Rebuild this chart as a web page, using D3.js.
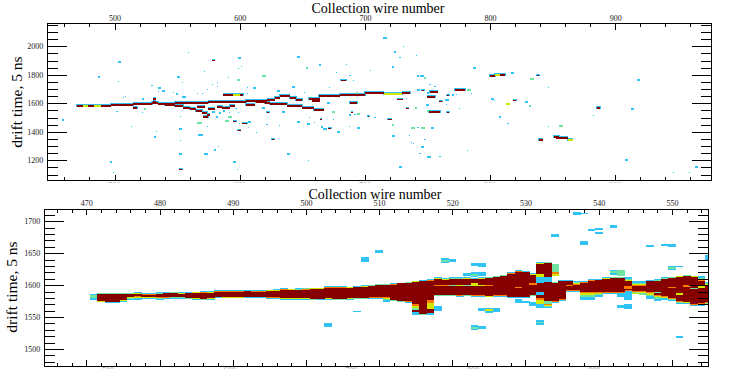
<!DOCTYPE html>
<meta charset="utf-8">
<head>
<style>
html, body { margin: 0; background: #fff; }
svg { display: block; }
svg rect { shape-rendering: crispEdges; }
text { font-family: "Liberation Serif", serif; fill: #000; }
.tick text { font-size: 8px; fill: #222; }
.title { font-size: 14px; }
.ytitle { font-size: 15.5px; }
.domain { display: none; }
.tick line { stroke: #000; stroke-width: 1; shape-rendering: crispEdges; }
</style>
</head>
<body>
<svg width="738" height="379"></svg>
<script src="https://cdn.jsdelivr.net/npm/d3@7"></script>
<script>

// cell colours, low charge to high charge
var levels = ["#2fc4f5", "#6fe3a0", "#d2e800", "#ff7a00", "#870000"];

// upper panel, full event
var topWireTicks = [500, 600, 700, 800, 900];
var topTimeTicks = [1200, 1400, 1600, 1800, 2000];

// track pieces: wire from, wire to, time, level
var topTracks = [
  [470,475,1578,4],[475,479,1581,2],[479,484,1582,4],[484,489,1583,2],[489,497,1583,4],
  [497,515,1588,4],[515,530,1592,4],[515,518,1567,4],[530,535,1600,4],[531,533,1628,4],[531,533,1612,4],
  [535,548,1598,4],[548,560,1605,4],[560,575,1603,4],[575,590,1607,4],[590,605,1612,4],[605,622,1613,4],
  [540,548,1590,4],[548,555,1578,4],[555,560,1570,4],[560,565,1560,4],[565,570,1545,4],[570,574,1530,4],[574,576,1518,4],[571,575,1505,4],
  [613,620,1612,4],[620,624,1600,4],[624,638,1595,4],[638,650,1583,4],[650,659,1570,4],[659,667,1555,4],
  [622,628,1625,4],[628,632,1635,4],[632,640,1650,4],[640,645,1640,4],[645,650,1625,4],
  [587,595,1655,4],[595,600,1655,2],[600,603,1658,4],
  [655,664,1630,4],[658,664,1616,4],[663,680,1650,4],[680,700,1655,4],
  [700,715,1672,4],[715,730,1668,2],[730,736,1670,4],
  [582,586,1572,4],[586,592,1565,4],[592,596,1578,4],[566,572,1575,4],[575,580,1562,4],[605,612,1590,4],
  [688,694,1605,4],[800,804,1790,4],[804,808,1797,2],[808,812,1800,4],
  [851,855,1366,4],[853,862,1357,4],[862,866,1345,2],[839,842,1343,4],
  [750,756,1642,4],[752,758,1680,4],[772,780,1695,4],[751,760,1537,4],[885,888,1567,4]
];

// single hits: wire, time, width in wires, level
var topHits = [
  [459,1483,2,0],[504,1892,3,0],[487.5,1785,2,0],[503,1752,1,0],[499,1113,1,0],[497,1188,2,0],[513.5,1431,1,0],[502,1539,1,0],
  [509,1642,1,0],[507,1635,1,0],[530,1722,1,0],[536,1710,2,0],[539,1689,2,0],[535,1677,1,0],[522.6,1633,2,0],[524.5,1563,2,1],
  [522.6,1534,1,0],[532.5,1366,2,0],[533.5,1396,1,0],[551,1785,2,0],[559,1951,1,0],[572,1818,1,0],[579,1902,3,4],[600,1916,2,0],
  [601.5,1857,1,0],[599,1841,1,0],[591,1775,1,0],[599,1764,3,1],[582,1740,1,0],[578,1729,1,0],[582,1712,1,0],[574,1694,1,0],
  [570,1665,1,0],[566,1663,1,0],[554,1740,1,0],[547,1670,1,0],[550,1665,2,0],[555.6,1642,3,0],[606,1705,1,0],[606,1665,1,0],
  [612,1708,2,0],[619.5,1792,3,1],[631,1689,3,0],[643,1712,3,0],[647,1925,2,0],[653.6,1846,2,1],[664,1869,2,0],[677.6,1810,1,0],
  [685.5,1871,1,0],[683,1764,5,4],[688,1792,1,0],[691,1759,1,0],[652,1670,1,0],[672,1705,1,0],[693.6,1670,2,1],[552.5,1502,1,0],
  [568,1459,4,1],[552.5,1422,2,0],[574,1431,1,0],[569,1375,4,0],[552.5,1333,1,0],[552.5,1244,2,0],[553,1139,3,4],[573,1242,3,0],
  [580.4,1272,2,0],[583,1291,1,0],[596,1190,2,0],[598,1132,1,0],[584.4,1530,2,0],[582,1506,2,0],[579,1541,2,0],[587.6,1546,2,0],
  [589.7,1478,3,1],[592,1502,3,1],[596,1476,3,4],[592,1530,1,0],[597,1558,1,0],[599,1530,1,0],[600,1455,1,0],[604,1464,5,4],
  [608,1469,2,0],[607,1424,1,1],[599.6,1413,3,4],[613.7,1394,1,0],[621.7,1448,1,0],[626.5,1350,3,4],[635,1539,3,0],[622.5,1541,3,4],
  [619,1565,3,0],[632,1441,1,0],[639,1242,3,0],[655,1193,1,0],[647,1469,2,0],[656,1495,1,0],[655,1453,2,0],[660,1460,1,0],
  [665,1492,2,4],[665.6,1436,2,0],[668,1417,3,0],[672,1427,3,4],[679,1399,3,0],[675,1541,2,1],[671,1600,2,0],[675,1483,1,0],
  [687.7,1436,1,0],[695,1427,2,0],[689.6,1541,2,4],[688,1518,2,0],[695,1525,2,1],[692,1518,1,0],[703,1511,2,4],
  [716,2059,3,0],[724,1960,2,0],[731,1993,1,0],[728,1916,1,0],[741,1932,1,0],[722.5,1853,2,0],[704.6,1829,1,0],[742.4,1792,2,0],
  [745.6,1792,3,0],[748,1780,2,1],[752,1726,1,0],[756,1717,1,0],[743,1694,2,0],[746.4,1694,3,4],[750.4,1670,2,0],[766.4,1661,3,4],
  [770.4,1658,2,0],[773,1656,1,0],[783,1691,3,1],[785,1668,1,0],[787.7,1848,2,0],[756,1642,1,0],[760.5,1614,3,4],[765.6,1626,3,0],
  [750,1591,2,0],[765,1586,1,0],[775.7,1558,1,0],[734,1567,3,4],[741,1567,2,1],[728,1630,5,4],[733,1628,1,0],[750.4,1544,2,1],
  [766.4,1537,3,4],[720,1490,4,4],[708,1495,1,0],[722.5,1450,2,1],[738.4,1427,3,1],[746.4,1427,3,1],[742.4,1425,1,0],[754,1425,2,0],
  [722.7,1371,2,0],[735.5,1371,1,0],[737,1324,1,0],[739,1312,1,0],[748,1343,1,0],[746,1296,2,0],[744,1244,1,0],[751,1226,3,0],
  [760,1221,1,0],[782,1268,1,0],[728.6,1151,2,0],[818,1815,2,0],[802,1630,2,0],[803.7,1614,1,0],[814.3,1595,3,2],[819.6,1623,3,4],
  [829,1607,3,0],[832,1581,2,1],[833.5,1773,3,1],[838.3,1796,3,4],[846.5,1705,1,0],[808,1504,2,0],[814.3,1453,1,0],[846.8,1436,1,0],
  [856.4,1441,3,1],[882.5,1513,1,0],[913.6,1563,2,0],[918.7,1761,2,0],[909,1200,2,0],[946.4,1109,1,0],[959,1109,1,0],[965,1151,2,0]
];

// lower panel, zoom on the start of the track
var lowWireTicks = [470, 480, 490, 500, 510, 520, 530, 540, 550];
var lowTimeTicks = [1500, 1550, 1600, 1650, 1700];
var bandWires = d3.range(472, 556);

var bandOuterTop = [1588,1588,1588,1588,1588,1589,1588,1588,1589,1589,1590,1589,1589,1590,1591,1591,
  1592,1592,1592,1592,1592,1592,1592,1593,1594,1595,1594,1595,1596,1596,1596,1598,1598,1598,1597,1598,1600,1601,
  1602,1602,1603,1604,1605,1607,1608,1610,1612,1611,1612,1612,1612,1611,1612,1613,1615,1616,1620,1624,1622,1619,
  1637,1637,1605,1608,1608,1607,1606,1609,1609,1612,1613,1613,1612,1606,1606,1608,1609,1612,1613,1615,1616,1615,1615,1605];
var bandCoreTop = [1586,1586,1586,1586,1586,1586,1585,1585,1585.5,1587,1587,1586,1587,1588,1588,1587,
  1590,1590,1590,1590,1590.5,1590,1590,1591,1591,1593,1593,1592,1593,1594,1594,1596,1596,1596,1596,1597,1597,1598,
  1600,1600,1601,1603,1603,1605,1606,1607,1610,1608,1609,1609,1610,1609,1610,1611,1612,1614,1618,1621,1620,1616,
  1633,1634,1603,1606,1606,1600,1604,1607,1608,1610,1611,1611,1606,1598,1598,1606,1606,1609,1611,1613,1614,1613,1606,1600];
var bandCoreBot = [1575,1574,1574,1577,1582,1583,1582,1582,1581,1581,1582,1582,1580,1580,1579,1580,
  1582,1581,1581,1581,1582,1582,1582,1581,1581,1580,1580,1580,1580,1579,1579,1580,1579,1579,1580,1580,1580,1581,
  1581,1581,1577,1575.5,1575,1570,1555,1577,1585,1585,1585,1584,1585,1584,1584,1583,1584,1584,1582,1582,1582,1585,
  1580,1570,1575,1578,1592,1592,1590,1590,1590,1589,1589,1589,1592,1591,1591,1590,1585,1583,1580,1575,1574,1570,1572,1573];
var bandOuterBot = [1573,1572.5,1572.5,1574,1577,1577,1578,1578,1577,1579,1579,1579,1578,1577,1576,1577,
  1580,1580,1580,1580,1580,1580,1580,1578,1578,1577,1577,1577,1577.5,1576,1577,1577,1576,1576,1577,1578,1578,1578,
  1578,1574,1575,1573,1572,1554,1553,1553,1583,1583,1583,1582,1583,1582,1582,1581,1582,1582,1580,1580,1580,1583,
  1565,1564,1572,1575,1589,1590,1577,1577,1581,1586,1586,1586,1589,1586,1584,1578,1575,1577,1575,1570,1570,1567,1567,1570];

// blobs off the band: wire, time top, time bottom, level
var lowBlobs = [
  [471,1586,1577,0],[471,1584,1580,1],[503,1540,1535,0],[507,1559,1558,0],[508,1644,1636,0],[510,1655,1651,0],
  [518,1568,1560,0],[519,1643,1634,0],[519,1640,1637,1],[520,1641,1636,0],[522,1619,1615,0],[523,1635,1630,0],
  [523,1621,1613,0],[523,1618,1615,1],[523,1538,1530,0],[523,1535,1532,1],[524,1635,1629,0],[524,1620,1615,0],
  [524,1564,1560,0],[524,1536,1532,0],[525,1565,1556,0],[525,1563,1559,2],[526,1565,1558,0],[529,1579,1572,0],
  [530,1575,1572,0],[531,1574,1568,0],[531,1543,1542,0],[532,1546,1537,0],[532,1543,1540,1],[534,1680,1676,0],
  [534,1633,1615,1],[534,1620,1617,3],[534,1617,1615,2],[537,1714,1710,0],[538,1713,1712,0],[538,1669,1663,0],
  [539,1690,1689,0],[539,1688,1685,0],[540,1690,1687,0],[540,1683,1680,0],[542,1694,1690,0],[547,1663,1659,0],
  [549,1664,1662,0],[550,1665,1660,0],[550,1630,1623,0],[550,1628,1625,1],[551,1630,1629,0],[551,1521,1518,0],
  [543,1569,1565,0],[544,1571,1563,0],[543,1586,1581,0],[544,1590,1577,0],[542,1624,1616,0],[542,1622,1619,1],
  [543,1624,1615,1],[555,1647,1640,0]
];

// marks over the band: same columns as the blobs
var lowSeams = [
  [515,1561,1558,4],[517,1563,1556,4],[517,1570,1563,2],[532,1618,1613,2],[532,1613,1603,0],[533,1613,1605,0],
  [518,1600,1598,3],[519,1600,1598,3],[520,1600,1598,1],[521,1600,1598,2],[522,1600,1598,1],[523,1603,1599,2],
  [524,1601,1598,2],[525,1600,1599,3],[529,1597,1595,3],[531,1603,1600,3],[532,1590,1585,0],[532,1575,1570,2],
  [533,1575,1570,1],[536,1600,1598,3],[544,1598,1594,3],[545,1588,1586,2],[546,1588,1585,1],[548,1590,1587,1],
  [551,1587,1584,2],[552,1600,1597,3],[553,1596,1594,1],[554,1600,1596,2],[550,1597,1595,3]
];

var svg = d3.select("svg");

var topX = d3.scaleLinear().domain([446.3, 976.7]).range([47.3, 711.3]);
var topY = d3.scaleLinear().domain([1058, 2160]).range([180.5, 23.5]);
var lowX = d3.scaleLinear().domain([464.26, 555.03]).range([44.3, 708.7]);
var lowY = d3.scaleLinear().domain([1473, 1718.75]).range([366.3, 209.3]);

function clipTo(id, x, y) {
  svg.append("clipPath").attr("id", id).append("rect")
    .attr("x", x.range()[0]).attr("y", y.range()[1])
    .attr("width", x.range()[1] - x.range()[0])
    .attr("height", y.range()[0] - y.range()[1]);
  return svg.append("g").attr("clip-path", "url(#" + id + ")");
}

// ---- upper panel
var topG = clipTo("clipTop", topX, topY);

topG.selectAll(".halo").data(topTracks).enter().append("rect")
  .attr("class", "halo")
  .attr("x", function(d) { return topX(d[0]) - 0.6; })
  .attr("width", function(d) { return topX(d[1]) - topX(d[0]) + 1.2; })
  .attr("y", function(d) { return Math.round(topY(d[2])) - 2; })
  .attr("height", 3)
  .attr("fill", levels[0]);

topG.selectAll(".hit").data(topHits).enter().append("rect")
  .attr("class", "hit")
  .attr("x", function(d) { return topX(d[0] - d[2] / 2); })
  .attr("width", function(d) { return Math.max(1, topX(d[2]) - topX(0)); })
  .attr("y", function(d) { return Math.round(topY(d[1])) - 1; })
  .attr("height", function(d) { return d[2] > 1 ? 2 : 1; })
  .attr("fill", function(d) { return d[3] == 4 ? levels[0] : levels[d[3]]; });

// red middle of the strong hits
topG.selectAll(".hitcore").data(topHits.filter(function(d) { return d[3] == 4; })).enter().append("rect")
  .attr("class", "hitcore")
  .attr("x", function(d) { return topX(d[0] - d[2] / 2 + 0.4); })
  .attr("width", function(d) { return topX(d[2] - 0.8) - topX(0); })
  .attr("y", function(d) { return Math.round(topY(d[1])); })
  .attr("height", 1)
  .attr("fill", levels[4]);

topG.selectAll(".core").data(topTracks).enter().append("rect")
  .attr("class", "core")
  .attr("x", function(d) { return topX(d[0]); })
  .attr("width", function(d) { return topX(d[1]) - topX(d[0]); })
  .attr("y", function(d) { return Math.round(topY(d[2])) - 1; })
  .attr("height", 2)
  .attr("fill", function(d) { return levels[d[3]]; });

// ---- lower panel
var lowG = clipTo("clipLow", lowX, lowY);

var bands = bandWires.map(function(w, i) {
  return { wire: w, outerTop: bandOuterTop[i], coreTop: bandCoreTop[i], coreBot: bandCoreBot[i], outerBot: bandOuterBot[i] };
});

// fringe of each column steps through the colours towards the core
var fringeSteps = [[0, 0], [0.4, 1], [0.6, 2], [0.8, 3]];
var fringes = [];
bands.forEach(function(b) {
  fringeSteps.forEach(function(s, j) {
    var next = j < 3 ? fringeSteps[j + 1][0] : 1;
    fringes.push({ wire: b.wire, t0: b.outerTop + (b.coreTop - b.outerTop) * s[0], t1: b.outerTop + (b.coreTop - b.outerTop) * next, lvl: s[1] });
    fringes.push({ wire: b.wire, t0: b.coreBot + (b.outerBot - b.coreBot) * (1 - next), t1: b.coreBot + (b.outerBot - b.coreBot) * (1 - s[0]), lvl: s[1] });
  });
});

function cellColumn(sel, wire, t0, t1) {
  sel.attr("x", function(d) { return lowX(wire(d) - 0.5); })
    .attr("width", lowX(1) - lowX(0) + 0.4)
    .attr("y", function(d) { return lowY(t0(d)); })
    .attr("height", function(d) { return Math.abs(lowY(t1(d)) - lowY(t0(d))); });
}

lowG.selectAll(".blob").data(lowBlobs).enter().append("rect")
  .attr("class", "blob")
  .call(cellColumn, function(d) { return d[0]; }, function(d) { return d[1]; }, function(d) { return d[2]; })
  .attr("fill", function(d) { return levels[d[3]]; });

lowG.selectAll(".fringe").data(fringes).enter().append("rect")
  .attr("class", "fringe")
  .call(cellColumn, function(d) { return d.wire; }, function(d) { return d.t0; }, function(d) { return d.t1; })
  .attr("fill", function(d) { return levels[d.lvl]; });

lowG.selectAll(".band").data(bands).enter().append("rect")
  .attr("class", "band")
  .call(cellColumn, function(d) { return d.wire; }, function(d) { return d.coreTop; }, function(d) { return d.coreBot; })
  .attr("fill", levels[4]);

lowG.selectAll(".seam").data(lowSeams).enter().append("rect")
  .attr("class", "seam")
  .call(cellColumn, function(d) { return d[0]; }, function(d) { return d[1]; }, function(d) { return d[2]; })
  .attr("fill", function(d) { return levels[d[3]]; });

// ---- frames and ticks
function drawFrame(x, y, xMinor, xMajor, yMinor, yMajor, fmtTop) {
  var x0 = x.range()[0], x1 = x.range()[1], y0 = y.range()[0], y1 = y.range()[1];
  var none = function() { return ""; };

  svg.append("g").attr("transform", "translate(0," + y1 + ")")
    .call(d3.axisTop(x).tickValues(xMinor).tickSize(-3.5).tickFormat(none));
  svg.append("g").attr("transform", "translate(0," + y0 + ")")
    .call(d3.axisBottom(x).tickValues(xMinor).tickSize(-3.5).tickFormat(none));
  svg.append("g").attr("transform", "translate(0," + y1 + ")")
    .call(d3.axisTop(x).tickValues(xMajor).tickSize(-6).tickPadding(3).tickFormat(fmtTop));
  svg.append("g").attr("transform", "translate(0," + y0 + ")")
    .call(d3.axisBottom(x).tickValues(xMajor).tickSize(-6).tickFormat(none));

  svg.append("g").attr("transform", "translate(" + x0 + ",0)")
    .call(d3.axisLeft(y).tickValues(yMinor).tickSize(-10.5).tickFormat(none));
  svg.append("g").attr("transform", "translate(" + x1 + ",0)")
    .call(d3.axisRight(y).tickValues(yMinor).tickSize(-10.5).tickFormat(none));
  svg.append("g").attr("transform", "translate(" + x0 + ",0)")
    .call(d3.axisLeft(y).tickValues(yMajor).tickSize(-19.5).tickPadding(4).tickFormat(fmtTop));
  svg.append("g").attr("transform", "translate(" + x1 + ",0)")
    .call(d3.axisRight(y).tickValues(yMajor).tickSize(-19.5).tickFormat(none));

  svg.append("rect").attr("x", x0).attr("y", y1)
    .attr("width", x1 - x0).attr("height", y0 - y1)
    .attr("fill", "none").attr("stroke", "#000").attr("stroke-width", 1.2);
}

var fmt = d3.format("d");
drawFrame(topX, topY, d3.range(460, 976, 20), topWireTicks, d3.range(1100, 2160, 50), topTimeTicks, fmt);
drawFrame(lowX, lowY, d3.range(466, 555, 2), lowWireTicks, d3.range(1480, 1718, 10), lowTimeTicks, fmt);

// tops of the lower tick labels stick out under each frame
var cutScale = d3.scaleLinear().domain([500, 900]).range([108, 594.6]);
function cutLabels(id, x, y, ticks) {
  svg.append("clipPath").attr("id", id).append("rect")
    .attr("x", 0).attr("y", y + 0.8).attr("width", 738).attr("height", 1.8);
  svg.append("g").attr("clip-path", "url(#" + id + ")")
    .selectAll("text").data(ticks).enter().append("text")
    .attr("x", function(d) { return x(d); })
    .attr("y", y + 7)
    .attr("text-anchor", "middle")
    .style("font-size", "8px")
    .style("fill", "#999")
    .text(fmt);
}
cutLabels("cutTop", topX, topY.range()[0], topWireTicks);
cutLabels("cutLow", cutScale, lowY.range()[0], topWireTicks);

// ---- titles
svg.append("text").attr("class", "title").attr("x", 378).attr("y", 13).attr("text-anchor", "middle").text("Collection wire number");
svg.append("text").attr("class", "title").attr("x", 375).attr("y", 199).attr("text-anchor", "middle").text("Collection wire number");
svg.append("text").attr("class", "ytitle").attr("transform", "translate(22,102) rotate(-90)").attr("text-anchor", "middle").text("drift time, 5 ns");
svg.append("text").attr("class", "ytitle").attr("transform", "translate(17,287) rotate(-90)").attr("text-anchor", "middle").text("drift time, 5 ns");

</script>
</body>
